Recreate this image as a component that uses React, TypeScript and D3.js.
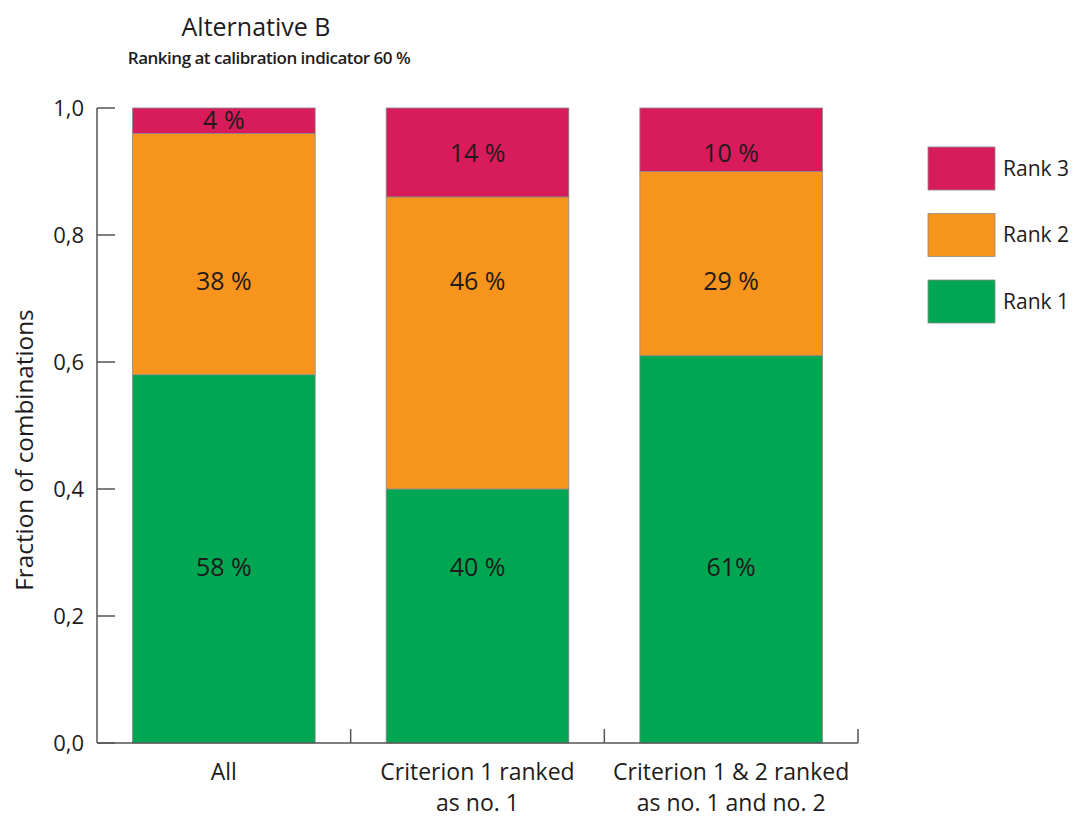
import React from "react";
import * as d3 from "d3";

const categories = ["All", "Criterion 1 ranked|as no. 1", "Criterion 1 & 2 ranked|as no. 1 and no. 2"];
const rank1 = [0.58, 0.40, 0.61];
const rank2 = [0.38, 0.46, 0.29];
const rank3 = [0.04, 0.14, 0.10];
const rank1Labels = ["58 %", "40 %", "61%"];
const rank2Labels = ["38 %", "46 %", "29 %"];
const rank3Labels = ["4 %", "14 %", "10 %"];
const seriesNames = ["Rank 1", "Rank 2", "Rank 3"];
const yTicks = [0, 0.2, 0.4, 0.6, 0.8, 1.0];
// label anchor heights (in data units)
const labelAnchor1 = [0.277, 0.277, 0.277];
const labelAnchor2 = [0.727, 0.727, 0.727];
const labelAnchor3 = [0.98, 0.928, 0.928];

const colors = ["#00a651", "#f7941d", "#d81b5a"];
const FONT = "'Open Sans', 'Noto Sans', sans-serif";
const INK = "#1e1b1c";

export default function App() {
  const W = 1078, H = 819;
  const left = 97, right = 858, top = 108, bottom = 743;
  const x = d3.scaleBand<string>().domain(categories).range([left, right]).paddingInner(0.28).paddingOuter(0.14);
  const bandStep = (right - left) / categories.length;
  const y = d3.scaleLinear().domain([0, 1]).range([bottom, top]);

  const rows = categories.map((c, i) => ({ c, r1: rank1[i], r2: rank2[i], r3: rank3[i] }));
  const stack = d3.stack<any>().keys(["r1", "r2", "r3"])(rows);
  const labels = [rank1Labels, rank2Labels, rank3Labels];
  const anchors = [labelAnchor1, labelAnchor2, labelAnchor3];

  return (
    <svg width={W} height={H} style={{ position: "absolute", left: 0, top: 0, background: "#fff" }} fontFamily={FONT}>
      <text x={256} y={36} textAnchor="middle" fontSize={25} fill={INK}>Alternative B</text>
      <text x={269} y={64} textAnchor="middle" fontSize={17} fontWeight={600} letterSpacing={-0.5} fill={INK}>Ranking at calibration indicator 60 %</text>

      {stack.map((s, si) =>
        s.map((d, i) => (
          <rect key={`${si}-${i}`} x={x(categories[i])} width={x.bandwidth()} y={y(d[1])} height={y(d[0]) - y(d[1])}
            fill={colors[si]} stroke="#8a8a8a" strokeWidth={0.8} />
        ))
      )}
      {labels.map((ls, si) =>
        ls.map((t, i) => (
          <text key={`l${si}-${i}`} x={(x(categories[i]) as number) + x.bandwidth() / 2} y={y(anchors[si][i])} dy="0.35em"
            textAnchor="middle" fontSize={25} fill={INK}>{t}</text>
        ))
      )}

      {/* y axis */}
      <line x1={left} x2={left} y1={y(1)} y2={y(0)} stroke="#555" strokeWidth={1.5} />
      {yTicks.map((t) => (
        <g key={t}>
          <line x1={left} x2={left + 18} y1={y(t)} y2={y(t)} stroke="#555" strokeWidth={1.5} />
          <text x={84} y={y(t)} dy="0.35em" textAnchor="end" fontSize={22} fill={INK}>{d3.format(".1f")(t).replace(".", ",")}</text>
        </g>
      ))}
      {/* x axis */}
      <line x1={left} x2={right} y1={bottom} y2={bottom} stroke="#555" strokeWidth={1.5} />
      {categories.map((c, i) => (
        <line key={c} x1={left + bandStep * (i + 1)} x2={left + bandStep * (i + 1)} y1={bottom} y2={bottom - 14} stroke="#555" strokeWidth={1.5} />
      ))}
      {categories.map((c) => {
        const cx = (x(c) as number) + x.bandwidth() / 2;
        return (
          <text key={"t" + c} x={cx} y={780} textAnchor="middle" fontSize={23} fill={INK}>
            {c.split("|").map((p, j) => (
              <tspan key={j} x={cx} dy={j === 0 ? 0 : 31}>{p}</tspan>
            ))}
          </text>
        );
      })}
      <text transform={`translate(33,${450}) rotate(-90)`} textAnchor="middle" fontSize={24.3} fill={INK}>Fraction of combinations</text>

      {/* legend */}
      {[2, 1, 0].map((si, k) => (
        <g key={si} transform={`translate(928,${147 + k * 66.5})`}>
          <rect width={67} height={43} fill={colors[si]} stroke="#8a8a8a" strokeWidth={0.8} />
          <text x={75} y={21.5} dy="0.35em" fontSize={21} fill={INK}>{seriesNames[si]}</text>
        </g>
      ))}
    </svg>
  );
}
